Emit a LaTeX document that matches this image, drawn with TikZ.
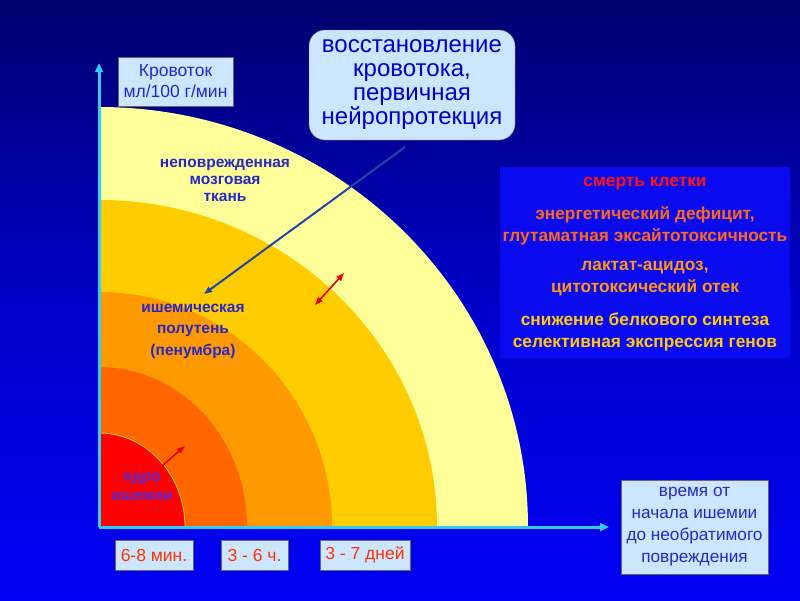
\documentclass[tikz,border=0pt]{standalone}
\usepackage{fontspec}
\setmainfont{Liberation Sans}
\usetikzlibrary{arrows.meta}
\definecolor{bgtop}{RGB}{0,0,110}
\definecolor{bgbot}{RGB}{0,0,245}
\definecolor{lightbg}{RGB}{204,230,255}
\definecolor{txtblue}{RGB}{40,40,200}
\definecolor{axiscol}{RGB}{51,204,255}
\definecolor{cyellow}{RGB}{255,255,153}
\definecolor{cgold}{RGB}{255,204,0}
\definecolor{corange}{RGB}{255,153,0}
\definecolor{cdorange}{RGB}{255,102,0}
\definecolor{cred}{RGB}{255,0,0}
\definecolor{arrblue}{RGB}{30,70,170}
\definecolor{panelblue}{RGB}{10,10,240}
\definecolor{tred}{RGB}{255,20,20}
\definecolor{torange}{RGB}{255,102,30}
\definecolor{tamber}{RGB}{255,150,20}
\definecolor{tgold}{RGB}{255,200,20}
\definecolor{corecol}{RGB}{90,40,210}
\definecolor{timered}{RGB}{255,51,0}
\tikzset{
  lightbox/.style={fill=lightbg, draw=black!60, line width=0.4pt, inner sep=2pt, align=center, text=txtblue},
  zonelabel/.style={align=center, text=txtblue, font=\bfseries\fontsize{15.5}{17}\selectfont},
  paneltext/.style={font=\bfseries\fontsize{17.3}{22}\selectfont, align=center},
  axisline/.style={axiscol, line width=3pt, -{Triangle[length=9pt,width=8pt]}},
  redarrow/.style={red!90!black, line width=1.6pt}
}
\begin{document}
\begin{tikzpicture}[x=1pt,y=-1pt]
\useasboundingbox (0,0) rectangle (800,600);
\shade[top color=bgtop, bottom color=bgbot, middle color={rgb,255:red,0;green,0;blue,200}] (0,0) rectangle (800,600);
% sectors
\begin{scope}
\clip (99,0) rectangle (800,527);
\fill[cyellow] (99,527) ellipse [x radius=429, y radius=420];
\fill[cgold] (99,527) ellipse [x radius=338, y radius=327];
\fill[corange] (99,527) ellipse [x radius=233, y radius=235];
\fill[cdorange] (99,527) ellipse [x radius=148, y radius=160];
\fill[cred, draw=yellow!80!orange, line width=0.8pt] (99,527) ellipse [x radius=86, y radius=94];
\end{scope}
% axes
\coordinate (O) at (99,527);
\coordinate (ytip) at (99,63);
\coordinate (xtip) at (609,527);
\draw[axisline] (O) -- (ytip);
\draw[axisline] (O) -- (xtip);
% zone labels
\node[zonelabel] (intact) at (225,180) {неповрежденная\\мозговая\\ткань};
\node[zonelabel, font=\bfseries\fontsize{15.5}{21.5}\selectfont] (penumbra) at (193,331) {ишемическая\\полутень\\(пенумбра)};
\node[zonelabel, text=corecol, font=\bfseries\fontsize{15.5}{19}\selectfont] (core) at (142,487) {ядро\\ишемии};
% boxes
\node[lightbox, minimum width=115pt, minimum height=49pt, font=\fontsize{17.5}{21}\selectfont] (flow) at (175.5,81.5) {Кровоток\\мл/100 г/мин};
\node[lightbox, rounded corners=16pt, minimum width=206pt, minimum height=110pt, text=blue!80!black, font=\fontsize{24}{24}\selectfont, draw=black!50] (restore) at (412,85) {восстановление\\кровотока,\\первичная\\нейропротекция};
\node[fill=panelblue, minimum width=290pt, minimum height=191pt, inner sep=0pt] (panel) at (645,262.5) {};
\node[paneltext, text=tred] (p1) at (645,184) {смерть клетки};
\node[paneltext, text=torange] (p2) at (645,226) {энергетический дефицит,\\глутаматная эксайтотоксичность};
\node[paneltext, text=tamber] (p3) at (645,279) {лактат-ацидоз,\\цитотоксический отек};
\node[paneltext, text=tgold] (p4) at (645,332) {снижение белкового синтеза\\селективная экспрессия генов};
\node[lightbox, minimum width=147pt, minimum height=94pt, font=\fontsize{17.2}{22}\selectfont] (time) at (694.5,527) {время от\\начала ишемии\\до необратимого\\повреждения};
\node[lightbox, text=timered, minimum width=78pt, minimum height=30pt, font=\fontsize{17.5}{18}\selectfont] (t1) at (154,555) {6-8 мин.};
\node[lightbox, text=timered, minimum width=67pt, minimum height=30pt, font=\fontsize{17.5}{18}\selectfont] (t2) at (254.5,555) {3 - 6 ч.};
\node[lightbox, text=timered, minimum width=90pt, minimum height=30pt, font=\fontsize{17.5}{18}\selectfont] (t3) at (365,555) {3 - 7 дней};
% arrows
\coordinate (bA) at (405,147);
\coordinate (bB) at (204,294);
\draw[arrblue, line width=2pt, -{Triangle[length=8pt,width=6pt]}] (bA) -- (bB);
\coordinate (rA) at (315,305);
\coordinate (rB) at (344,273);
\draw[redarrow, {Triangle[length=8pt,width=6pt]}-{Triangle[length=8pt,width=6pt]}] (rA) -- (rB);
\coordinate (cA) at (162,466);
\coordinate (cB) at (185,446);
\draw[redarrow, -{Triangle[length=8pt,width=6pt]}] (cA) -- (cB);
\end{tikzpicture}
\end{document}
